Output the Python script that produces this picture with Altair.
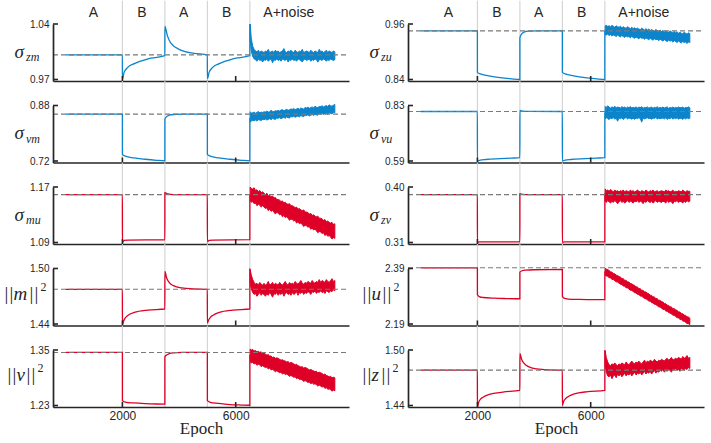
import altair as alt
import pandas as pd

# ---------------------------------------------------------------- style
BLUE = "#0b84cc"
RED = "#de0027"
INK = "#262626"
PHASE_GREY = "#d2d2d2"
REF_GREY = "#7a7a7a"
SANS = "Liberation Sans"
SERIF = "Liberation Serif"

W, H = 296, 57          # plot area of every panel
ROW_GAP = 24.5          # vertical gap between stacked panels
TOP_EXT = 23.3          # phase rules reach up to the top edge
COL_GAP = 59            # gap between the two columns of panels

# ---------------------------------------------------------------- data
x_domain = [-450, 10000]
x_ticks = [2000, 6000]
phase_edges = [2000, 3500, 5000, 6500]
phase_names = ["A", "B", "A", "B", "A+noise"]
phase_centers = [980, 2690, 4160, 5685, 7875]

noise_epoch = [6510, 6550, 6600, 6650, 6700, 6750, 6800, 6850, 6900, 6950,
               7000, 7050, 7100, 7150, 7200, 7250, 7300, 7350, 7400, 7450,
               7500, 7550, 7600, 7650, 7700, 7750, 7800, 7850, 7900, 7950,
               8000, 8050, 8100, 8150, 8200, 8250, 8300, 8350, 8400, 8450,
               8500, 8550, 8600, 8650, 8700, 8750, 8800, 8850, 8900, 8950,
               9000, 9050, 9100, 9150, 9200, 9250, 9300, 9350, 9400, 9450,
               9500]

# sigma_zm
zm_epoch = [0, 2000, 2001, 2060, 2180, 2420, 2900, 3499, 3500, 3590, 3710, 4060,
            4530, 4999, 5001, 5060, 5180, 5420, 5900, 6499, 6500]
zm_value = [1.001, 1.001, 0.970, 0.979, 0.985, 0.990, 0.996, 1.000, 1.037, 1.025,
            1.016, 1.007, 1.003, 1.001, 0.971, 0.979, 0.985, 0.990, 0.996, 1.000, 1.040]
zm_lo = [1.020, 1.006, 0.999, 0.996, 0.995, 0.993, 0.996, 0.994, 0.995, 0.992,
         0.995, 0.994, 0.996, 0.993, 0.995, 0.996, 0.991, 0.995, 0.994, 0.996,
         0.994, 0.995, 0.993, 0.996, 0.995, 0.994, 0.996, 0.992, 0.995, 0.994,
         0.996, 0.994, 0.995, 0.993, 0.996, 0.995, 0.994, 0.992, 0.995, 0.996,
         0.994, 0.995, 0.996, 0.993, 0.995, 0.994, 0.996, 0.995, 0.992, 0.995,
         0.995, 0.994, 0.996, 0.995, 0.993, 0.995, 0.994, 0.996, 0.995, 0.994,
         0.995]
zm_hi = [1.040, 1.022, 1.012, 1.008, 1.006, 1.005, 1.007, 1.004, 1.006, 1.005,
         1.004, 1.006, 1.005, 1.008, 1.004, 1.005, 1.006, 1.004, 1.007, 1.005,
         1.006, 1.004, 1.005, 1.006, 1.009, 1.005, 1.004, 1.006, 1.005, 1.007,
         1.005, 1.004, 1.007, 1.005, 1.004, 1.006, 1.005, 1.008, 1.004, 1.005,
         1.006, 1.005, 1.004, 1.007, 1.005, 1.004, 1.006, 1.005, 1.004, 1.008,
         1.005, 1.006, 1.004, 1.005, 1.007, 1.004, 1.006, 1.005, 1.004, 1.006,
         1.005]

# sigma_vm
vm_epoch = [0, 2000, 2001, 2100, 2400, 2800, 3200, 3499, 3500, 3560, 3650, 3800,
            4100, 4999, 5001, 5100, 5400, 5800, 6200, 6499, 6500]
vm_value = [0.855, 0.855, 0.739, 0.734, 0.729, 0.725, 0.722, 0.7205, 0.840, 0.848,
            0.852, 0.854, 0.855, 0.855, 0.739, 0.734, 0.729, 0.725, 0.722, 0.7205, 0.845]
vm_lo = [0.832, 0.835, 0.837, 0.836, 0.838, 0.835, 0.839, 0.838, 0.837, 0.840,
         0.839, 0.841, 0.838, 0.840, 0.842, 0.839, 0.843, 0.841, 0.840, 0.844,
         0.843, 0.845, 0.842, 0.844, 0.846, 0.843, 0.847, 0.845, 0.844, 0.848,
         0.847, 0.849, 0.846, 0.848, 0.850, 0.847, 0.851, 0.849, 0.848, 0.852,
         0.851, 0.853, 0.850, 0.852, 0.854, 0.851, 0.855, 0.853, 0.852, 0.856,
         0.855, 0.857, 0.854, 0.856, 0.858, 0.855, 0.859, 0.857, 0.856, 0.860,
         0.859]
vm_hi = [0.862, 0.858, 0.859, 0.861, 0.858, 0.860, 0.863, 0.859, 0.861, 0.860,
         0.862, 0.861, 0.864, 0.861, 0.862, 0.866, 0.863, 0.862, 0.865, 0.864,
         0.866, 0.864, 0.867, 0.868, 0.865, 0.867, 0.869, 0.866, 0.868, 0.870,
         0.869, 0.871, 0.868, 0.870, 0.872, 0.869, 0.873, 0.871, 0.870, 0.874,
         0.873, 0.875, 0.872, 0.874, 0.876, 0.873, 0.878, 0.875, 0.874, 0.877,
         0.877, 0.879, 0.876, 0.878, 0.880, 0.877, 0.882, 0.879, 0.878, 0.881,
         0.883]

# sigma_mu
mu_epoch = [0, 2000, 2001, 2060, 2200, 3499, 3500, 3600, 3800, 4999, 5001, 5060,
            5200, 6499, 6500]
mu_value = [1.159, 1.159, 1.090, 1.093, 1.0935, 1.094, 1.162, 1.160, 1.159, 1.159,
            1.091, 1.093, 1.0935, 1.094, 1.160]
mu_lo = [1.151, 1.148, 1.149, 1.146, 1.147, 1.143, 1.145, 1.144, 1.141, 1.143,
         1.141, 1.139, 1.140, 1.136, 1.138, 1.135, 1.136, 1.134, 1.131, 1.134,
         1.132, 1.130, 1.131, 1.127, 1.129, 1.126, 1.127, 1.125, 1.122, 1.124,
         1.123, 1.121, 1.122, 1.118, 1.120, 1.117, 1.118, 1.116, 1.113, 1.115,
         1.114, 1.112, 1.113, 1.109, 1.111, 1.108, 1.109, 1.107, 1.104, 1.106,
         1.105, 1.103, 1.104, 1.100, 1.102, 1.099, 1.100, 1.098, 1.095, 1.097,
         1.096]
mu_hi = [1.170, 1.168, 1.167, 1.169, 1.165, 1.166, 1.163, 1.165, 1.162, 1.163,
         1.161, 1.159, 1.161, 1.157, 1.158, 1.156, 1.157, 1.154, 1.155, 1.152,
         1.152, 1.151, 1.149, 1.150, 1.147, 1.148, 1.146, 1.145, 1.146, 1.143,
         1.143, 1.142, 1.140, 1.141, 1.138, 1.139, 1.137, 1.136, 1.137, 1.134,
         1.134, 1.133, 1.131, 1.132, 1.129, 1.130, 1.128, 1.127, 1.128, 1.125,
         1.125, 1.124, 1.122, 1.123, 1.120, 1.121, 1.119, 1.118, 1.119, 1.116,
         1.117]

# ||m||^2
m_epoch = [0, 2000, 2001, 2040, 2100, 2200, 2420, 2900, 3499, 3500, 3560, 3650, 3800,
           4100, 4500, 4999, 5001, 5040, 5100, 5200, 5420, 5900, 6499, 6500]
m_value = [1.4775, 1.4775, 1.439, 1.443, 1.4465, 1.4495, 1.4525, 1.455, 1.4562, 1.497,
           1.490, 1.485, 1.4815, 1.479, 1.478, 1.4775, 1.441, 1.444, 1.447, 1.4495,
           1.4525, 1.455, 1.4562, 1.500]
m_lo = [1.485, 1.478, 1.474, 1.472, 1.473, 1.470, 1.472, 1.474, 1.471, 1.473,
        1.472, 1.470, 1.473, 1.471, 1.474, 1.472, 1.469, 1.473, 1.472, 1.474,
        1.471, 1.473, 1.472, 1.474, 1.470, 1.473, 1.474, 1.472, 1.473, 1.471,
        1.474, 1.472, 1.473, 1.475, 1.471, 1.474, 1.473, 1.475, 1.472, 1.474,
        1.473, 1.475, 1.474, 1.472, 1.475, 1.474, 1.476, 1.473, 1.475, 1.474,
        1.476, 1.474, 1.475, 1.473, 1.476, 1.475, 1.474, 1.476, 1.475, 1.477,
        1.476]
m_hi = [1.499, 1.493, 1.488, 1.485, 1.483, 1.484, 1.482, 1.485, 1.483, 1.482,
        1.484, 1.482, 1.483, 1.486, 1.482, 1.483, 1.485, 1.482, 1.484, 1.483,
        1.482, 1.485, 1.483, 1.482, 1.484, 1.486, 1.483, 1.482, 1.485, 1.483,
        1.484, 1.483, 1.486, 1.484, 1.483, 1.485, 1.487, 1.484, 1.483, 1.485,
        1.484, 1.486, 1.485, 1.484, 1.487, 1.485, 1.484, 1.486, 1.485, 1.488,
        1.485, 1.487, 1.486, 1.485, 1.488, 1.486, 1.485, 1.487, 1.489, 1.486,
        1.487]

# ||v||^2
v_epoch = [0, 2000, 2001, 2100, 2400, 2800, 3200, 3499, 3500, 3560, 3650, 3800, 4100,
           4999, 5001, 5100, 5400, 5800, 6200, 6499, 6500]
v_value = [1.3447, 1.3447, 1.2405, 1.2375, 1.2355, 1.234, 1.2332, 1.233, 1.3353, 1.339,
           1.342, 1.344, 1.3447, 1.3447, 1.2405, 1.237, 1.2345, 1.232, 1.231, 1.2305, 1.340]
v_lo = [1.325, 1.322, 1.323, 1.320, 1.321, 1.317, 1.319, 1.318, 1.314, 1.316,
        1.314, 1.312, 1.313, 1.309, 1.311, 1.307, 1.308, 1.306, 1.303, 1.305,
        1.303, 1.301, 1.302, 1.298, 1.300, 1.297, 1.298, 1.296, 1.293, 1.295,
        1.293, 1.291, 1.292, 1.288, 1.290, 1.286, 1.287, 1.285, 1.282, 1.284,
        1.282, 1.280, 1.281, 1.277, 1.279, 1.276, 1.277, 1.275, 1.272, 1.274,
        1.272, 1.270, 1.271, 1.267, 1.269, 1.265, 1.266, 1.264, 1.261, 1.263,
        1.262]
v_hi = [1.352, 1.350, 1.351, 1.348, 1.349, 1.346, 1.347, 1.345, 1.346, 1.342,
        1.343, 1.341, 1.339, 1.340, 1.337, 1.337, 1.334, 1.335, 1.332, 1.333,
        1.332, 1.330, 1.328, 1.329, 1.327, 1.326, 1.324, 1.325, 1.322, 1.323,
        1.322, 1.320, 1.318, 1.319, 1.316, 1.315, 1.313, 1.314, 1.311, 1.312,
        1.311, 1.309, 1.307, 1.308, 1.306, 1.305, 1.303, 1.304, 1.301, 1.302,
        1.301, 1.299, 1.297, 1.298, 1.295, 1.294, 1.292, 1.293, 1.290, 1.291,
        1.290]

# sigma_zu
zu_epoch = [0, 2000, 2001, 2100, 2400, 2800, 3200, 3499, 3500, 3560, 3650, 3800, 4100,
            4999, 5001, 5100, 5400, 5800, 6200, 6499, 6500]
zu_value = [0.9452, 0.9452, 0.8555, 0.852, 0.848, 0.844, 0.8415, 0.840, 0.930, 0.938,
            0.9425, 0.9445, 0.9452, 0.9452, 0.8555, 0.852, 0.848, 0.844, 0.8415, 0.840, 0.945]
zu_lo = [0.937, 0.936, 0.938, 0.935, 0.937, 0.934, 0.936, 0.935, 0.933, 0.936,
         0.934, 0.932, 0.935, 0.933, 0.931, 0.934, 0.932, 0.933, 0.930, 0.933,
         0.931, 0.929, 0.932, 0.930, 0.928, 0.931, 0.929, 0.930, 0.927, 0.930,
         0.928, 0.926, 0.929, 0.927, 0.925, 0.928, 0.926, 0.927, 0.924, 0.927,
         0.925, 0.923, 0.926, 0.924, 0.922, 0.925, 0.923, 0.924, 0.921, 0.924,
         0.922, 0.920, 0.923, 0.921, 0.919, 0.922, 0.920, 0.921, 0.918, 0.921,
         0.920]
zu_hi = [0.956, 0.957, 0.955, 0.956, 0.954, 0.957, 0.955, 0.953, 0.956, 0.954,
         0.953, 0.955, 0.952, 0.954, 0.952, 0.951, 0.954, 0.952, 0.950, 0.953,
         0.950, 0.952, 0.949, 0.951, 0.949, 0.948, 0.951, 0.949, 0.947, 0.950,
         0.947, 0.949, 0.946, 0.948, 0.946, 0.945, 0.948, 0.946, 0.944, 0.947,
         0.944, 0.946, 0.943, 0.945, 0.943, 0.942, 0.945, 0.943, 0.941, 0.944,
         0.941, 0.943, 0.940, 0.942, 0.940, 0.939, 0.942, 0.940, 0.938, 0.941,
         0.939]

# sigma_vu
vu_epoch = [0, 2000, 2001, 2100, 2300, 2800, 3200, 3499, 3500, 3600, 3800, 4999, 5001,
            5100, 5300, 5800, 6200, 6499, 6500]
vu_value = [0.804, 0.804, 0.590, 0.594, 0.5965, 0.600, 0.6025, 0.6045, 0.8085, 0.806,
            0.8045, 0.804, 0.590, 0.594, 0.5965, 0.600, 0.6025, 0.6045, 0.800]
vu_lo = [0.772, 0.777, 0.774, 0.769, 0.776, 0.773, 0.778, 0.771, 0.775, 0.762,
         0.776, 0.773, 0.777, 0.770, 0.775, 0.778, 0.772, 0.776, 0.774, 0.771,
         0.775, 0.770, 0.776, 0.773, 0.777, 0.774, 0.758, 0.776, 0.772, 0.775,
         0.777, 0.773, 0.775, 0.771, 0.776, 0.774, 0.778, 0.772, 0.775, 0.773,
         0.774, 0.776, 0.772, 0.777, 0.770, 0.775, 0.773, 0.778, 0.771, 0.776,
         0.773, 0.777, 0.771, 0.775, 0.774, 0.770, 0.776, 0.772, 0.777, 0.773,
         0.775]
vu_hi = [0.826, 0.821, 0.829, 0.823, 0.819, 0.824, 0.821, 0.827, 0.820, 0.823,
         0.822, 0.819, 0.825, 0.821, 0.823, 0.818, 0.824, 0.820, 0.826, 0.819,
         0.822, 0.820, 0.824, 0.819, 0.823, 0.821, 0.825, 0.818, 0.822, 0.820,
         0.824, 0.819, 0.821, 0.823, 0.818, 0.822, 0.820, 0.825, 0.819, 0.821,
         0.820, 0.823, 0.819, 0.822, 0.824, 0.818, 0.821, 0.820, 0.823, 0.819,
         0.822, 0.819, 0.824, 0.820, 0.821, 0.823, 0.818, 0.822, 0.820, 0.824,
         0.820]

# sigma_zv
zv_epoch = [0, 2000, 2001, 2080, 3499, 3500, 3600, 3800, 4999, 5001, 5080, 6499, 6500]
zv_value = [0.3876, 0.3876, 0.310, 0.311, 0.3112, 0.3892, 0.388, 0.3877, 0.3876,
            0.310, 0.311, 0.3112, 0.390]
zv_lo = [0.377, 0.375, 0.378, 0.376, 0.374, 0.377, 0.375, 0.378, 0.376, 0.373,
         0.376, 0.378, 0.375, 0.377, 0.374, 0.376, 0.378, 0.375, 0.377, 0.376,
         0.374, 0.377, 0.376, 0.378, 0.375, 0.377, 0.376, 0.373, 0.377, 0.375,
         0.378, 0.376, 0.375, 0.377, 0.374, 0.376, 0.378, 0.375, 0.377, 0.376,
         0.375, 0.377, 0.376, 0.374, 0.378, 0.375, 0.377, 0.376, 0.373, 0.377,
         0.376, 0.378, 0.375, 0.377, 0.376, 0.374, 0.377, 0.375, 0.378, 0.376,
         0.377]
zv_hi = [0.397, 0.394, 0.395, 0.393, 0.396, 0.394, 0.392, 0.395, 0.393, 0.394,
         0.392, 0.394, 0.393, 0.395, 0.392, 0.394, 0.393, 0.392, 0.395, 0.393,
         0.394, 0.392, 0.393, 0.395, 0.393, 0.392, 0.394, 0.393, 0.392, 0.395,
         0.393, 0.392, 0.394, 0.393, 0.395, 0.392, 0.393, 0.394, 0.392, 0.393,
         0.394, 0.393, 0.392, 0.395, 0.393, 0.394, 0.392, 0.393, 0.395, 0.392,
         0.393, 0.392, 0.394, 0.393, 0.392, 0.395, 0.393, 0.392, 0.394, 0.393,
         0.393]

# ||u||^2
u_epoch = [0, 2000, 2001, 2080, 2200, 2600, 3000, 3499, 3500, 3580, 3700, 4000, 4999,
           5001, 5080, 5200, 5600, 6000, 6499, 6500]
u_value = [2.3925, 2.3925, 2.2955, 2.288, 2.2855, 2.283, 2.2818, 2.281, 2.377, 2.382,
           2.384, 2.3855, 2.3865, 2.2895, 2.282, 2.280, 2.2785, 2.278, 2.2775, 2.380]
u_lo = [2.366, 2.363, 2.362, 2.357, 2.356, 2.351, 2.350, 2.346, 2.342, 2.341,
        2.337, 2.333, 2.332, 2.327, 2.326, 2.321, 2.320, 2.316, 2.312, 2.311,
        2.307, 2.303, 2.302, 2.297, 2.296, 2.291, 2.290, 2.286, 2.282, 2.281,
        2.277, 2.273, 2.272, 2.267, 2.266, 2.261, 2.260, 2.256, 2.252, 2.251,
        2.247, 2.243, 2.242, 2.237, 2.236, 2.231, 2.230, 2.226, 2.222, 2.221,
        2.217, 2.213, 2.212, 2.207, 2.206, 2.201, 2.200, 2.196, 2.192, 2.191,
        2.188]
u_hi = [2.391, 2.388, 2.386, 2.383, 2.378, 2.377, 2.372, 2.371, 2.366, 2.365,
        2.361, 2.359, 2.354, 2.353, 2.348, 2.347, 2.342, 2.341, 2.336, 2.335,
        2.331, 2.329, 2.324, 2.323, 2.318, 2.317, 2.312, 2.311, 2.306, 2.305,
        2.301, 2.299, 2.294, 2.293, 2.288, 2.287, 2.282, 2.281, 2.276, 2.275,
        2.271, 2.269, 2.264, 2.263, 2.258, 2.257, 2.252, 2.251, 2.246, 2.245,
        2.241, 2.239, 2.234, 2.233, 2.228, 2.227, 2.222, 2.221, 2.216, 2.215,
        2.211]

# ||z||^2
z_epoch = [0, 2000, 2001, 2040, 2100, 2200, 2420, 2900, 3499, 3500, 3560, 3650, 3800,
           4100, 4500, 4999, 5001, 5040, 5100, 5200, 5420, 5900, 6499, 6500]
z_value = [1.4782, 1.4782, 1.438, 1.443, 1.4465, 1.449, 1.452, 1.4545, 1.4564, 1.4963,
           1.490, 1.4855, 1.482, 1.4795, 1.4785, 1.4782, 1.440, 1.444, 1.447, 1.4495,
           1.4525, 1.455, 1.4564, 1.500]
z_lo = [1.484, 1.476, 1.472, 1.471, 1.473, 1.469, 1.472, 1.473, 1.470, 1.474,
        1.472, 1.474, 1.471, 1.473, 1.475, 1.472, 1.474, 1.473, 1.475, 1.472,
        1.474, 1.476, 1.473, 1.475, 1.474, 1.476, 1.473, 1.475, 1.477, 1.474,
        1.476, 1.475, 1.477, 1.474, 1.476, 1.478, 1.475, 1.477, 1.476, 1.478,
        1.477, 1.479, 1.476, 1.478, 1.477, 1.479, 1.478, 1.476, 1.479, 1.478,
        1.480, 1.478, 1.479, 1.477, 1.480, 1.479, 1.478, 1.480, 1.479, 1.481,
        1.480]
z_hi = [1.499, 1.492, 1.487, 1.484, 1.483, 1.485, 1.484, 1.486, 1.484, 1.483,
        1.485, 1.484, 1.486, 1.485, 1.484, 1.487, 1.485, 1.484, 1.486, 1.488,
        1.486, 1.485, 1.487, 1.486, 1.488, 1.486, 1.485, 1.487, 1.489, 1.486,
        1.488, 1.487, 1.489, 1.488, 1.487, 1.490, 1.488, 1.487, 1.489, 1.488,
        1.490, 1.489, 1.488, 1.490, 1.491, 1.489, 1.490, 1.492, 1.489, 1.490,
        1.491, 1.490, 1.492, 1.491, 1.490, 1.493, 1.491, 1.492, 1.494, 1.491,
        1.492]


# ------------------------------------------------------- axis-title glyphs
def sigma_label(sub):
    return [("σ", -38.5, 33.5, 19, True), (sub, -27, 37, 12, True)]


def norm_label(var, x0, gap):
    # ||var||^2 built from upright bars, an italic symbol and a superscript
    return [("|", x0, 31, 19, False), ("|", x0 + 5, 31, 19, False),
            (var, x0 + 9, 31, 19, True),
            ("|", x0 + 9 + gap, 31, 19, False), ("|", x0 + 14 + gap, 31, 19, False),
            ("2", x0 + 20 + gap, 22, 12, False)]


left_panels = [
    dict(color=BLUE, ticks=(0.97, 1.04), ref=1.001, epoch=zm_epoch, value=zm_value,
         lo=zm_lo, hi=zm_hi, label=sigma_label("zm")),
    dict(color=BLUE, ticks=(0.72, 0.88), ref=0.855, epoch=vm_epoch, value=vm_value,
         lo=vm_lo, hi=vm_hi, label=sigma_label("vm")),
    dict(color=RED, ticks=(1.09, 1.17), ref=1.159, epoch=mu_epoch, value=mu_value,
         lo=mu_lo, hi=mu_hi, label=sigma_label("mu")),
    dict(color=RED, ticks=(1.44, 1.50), ref=1.4775, epoch=m_epoch, value=m_value,
         lo=m_lo, hi=m_hi, label=norm_label("m", -48.5, 16)),
    dict(color=RED, ticks=(1.23, 1.35), ref=1.3447, epoch=v_epoch, value=v_value,
         lo=v_lo, hi=v_hi, label=norm_label("v", -45.5, 10)),
]
right_panels = [
    dict(color=BLUE, ticks=(0.84, 0.96), ref=0.9452, epoch=zu_epoch, value=zu_value,
         lo=zu_lo, hi=zu_hi, label=sigma_label("zu")),
    dict(color=BLUE, ticks=(0.59, 0.83), ref=0.804, epoch=vu_epoch, value=vu_value,
         lo=vu_lo, hi=vu_hi, label=sigma_label("vu")),
    dict(color=RED, ticks=(0.31, 0.40), ref=0.3876, epoch=zv_epoch, value=zv_value,
         lo=zv_lo, hi=zv_hi, label=sigma_label("zv")),
    dict(color=RED, ticks=(2.19, 2.39), ref=2.3925, epoch=u_epoch, value=u_value,
         lo=u_lo, hi=u_hi, label=norm_label("u", -45.5, 11)),
    dict(color=RED, ticks=(1.44, 1.50), ref=1.4782, epoch=z_epoch, value=z_value,
         lo=z_lo, hi=z_hi, label=norm_label("z", -45.5, 10)),
]

ONE = pd.DataFrame({"k": [0]})


def panel(p, top, bottom):
    lo_t, hi_t = p["ticks"]
    span = hi_t - lo_t
    xscale = alt.Scale(domain=x_domain, nice=False, zero=False)
    yscale = alt.Scale(domain=[lo_t - 0.027 * span, hi_t], nice=False, zero=False)
    xaxis = alt.Axis(values=x_ticks, labels=bottom, format="d", ticks=False, grid=False,
                     domain=True, domainColor=INK, domainWidth=1.7, labelFlush=False,
                     labelFont=SANS, labelFontSize=12, labelColor=INK, labelPadding=3,
                     titleFont=SERIF, titleFontSize=17, titleFontWeight="normal",
                     titleColor=INK, titleY=26.5, titleBaseline="alphabetic", zindex=1)
    yaxis = alt.Axis(values=[lo_t, hi_t], format=".2f", ticks=False, grid=False,
                     domain=True, domainColor=INK, domainWidth=1.7, labelFont=SANS,
                     labelFontSize=10, labelColor=INK, labelPadding=4, zindex=1)
    xtitle = "Epoch" if bottom else None

    def X(f):
        return alt.X(f"{f}:Q", scale=xscale, axis=xaxis, title=xtitle)

    def Y(f):
        return alt.Y(f"{f}:Q", scale=yscale, axis=yaxis, title=None)

    ext = TOP_EXT if top else ROW_GAP
    rules = alt.Chart(pd.DataFrame({"epoch": phase_edges})).mark_rule(
        color=PHASE_GREY, strokeWidth=1.1
    ).encode(x=X("epoch"), y=alt.value(-ext), y2=alt.value(H))

    line = alt.Chart(pd.DataFrame({"epoch": p["epoch"], "value": p["value"]})).mark_line(
        color=p["color"], strokeWidth=1.3, interpolate="monotone"
    ).encode(x=X("epoch"), y=Y("value"))

    band = alt.Chart(pd.DataFrame({"epoch": noise_epoch, "lo": p["lo"], "hi": p["hi"]})).mark_area(
        color=p["color"], opacity=1, stroke=p["color"], strokeWidth=1.0
    ).encode(x=X("epoch"), y=Y("lo"), y2="hi:Q")

    ref = alt.Chart(pd.DataFrame({"ref": [p["ref"]]})).mark_rule(
        color=REF_GREY, strokeDash=[5, 3], strokeWidth=1.1
    ).encode(y=Y("ref"), x=alt.value(0), x2=alt.value(W))

    yt = alt.Chart(pd.DataFrame({"t": [lo_t, hi_t]})).mark_rule(
        color=INK, strokeWidth=1.6
    ).encode(y=Y("t"), x=alt.value(0), x2=alt.value(5))

    xt = alt.Chart(pd.DataFrame({"t": x_ticks})).mark_rule(
        color=INK, strokeWidth=1.6
    ).encode(x=X("t"), y=alt.value(H), y2=alt.value(H - 5))

    layers = [rules, line, band, ref, yt, xt]
    for txt, dx, dy, size, italic in p["label"]:
        layers.append(
            alt.Chart(ONE).mark_text(
                text=txt, align="left", baseline="alphabetic", font=SERIF,
                fontSize=size, fontStyle="italic" if italic else "normal", color=INK
            ).encode(x=alt.value(dx), y=alt.value(dy))
        )
    if top:
        layers.append(
            alt.Chart(pd.DataFrame({"epoch": phase_centers, "name": phase_names})).mark_text(
                font=SANS, fontSize=14, color=INK, baseline="middle", align="center"
            ).encode(x=X("epoch"), y=alt.value(-10.8), text="name:N")
        )
    return alt.layer(*layers).properties(width=W, height=H)


# panels in reading order: left/right pairs, row by row
n_rows = len(left_panels)
cells = []
for i in range(n_rows):
    cells.append(panel(left_panels[i], i == 0, i == n_rows - 1))
    cells.append(panel(right_panels[i], i == 0, i == n_rows - 1))

chart = alt.concat(
    *cells, columns=2, spacing={"row": ROW_GAP, "column": COL_GAP}, bounds="flush"
).properties(
    padding={"left": 4, "top": 0, "right": 0, "bottom": 0}
).configure_view(stroke=None)

chart.save("out.html", embed_options={"renderer": "svg", "actions": False})
